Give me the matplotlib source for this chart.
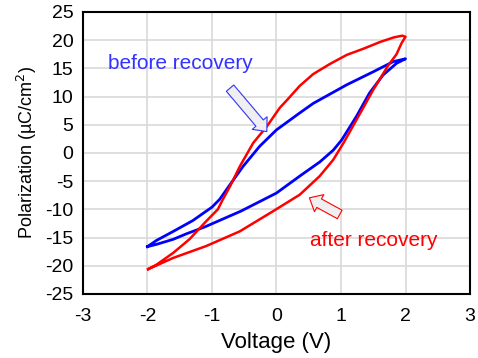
import matplotlib
matplotlib.use("Agg")
import matplotlib.pyplot as plt

plt.rcParams['font.family'] = ['Liberation Sans', 'DejaVu Sans']
plt.rcParams['axes.unicode_minus'] = False

# Lazo "before recovery": rama ascendente (-2 -> +2) y descendente (+2 -> -2)
before_up_v = [-2.0, -1.86, -1.60, -1.39, -1.11, -0.55, 0.0, 0.36, 0.67, 0.88, 1.01, 1.24, 1.44, 1.65, 1.86, 2.0]
before_up_p = [-16.6, -16.2, -15.3, -14.3, -13.1, -10.3, -7.1, -4.1, -1.6, 0.5, 2.3, 6.5, 10.6, 13.8, 15.9, 16.7]
before_down_v = [2.0, 1.81, 1.50, 1.09, 0.57, 0.36, 0.0, -0.26, -0.52, -0.72, -0.88, -1.0, -1.30, -1.60, -1.86, -2.0]
before_down_p = [16.7, 16.2, 14.4, 12.1, 8.8, 7.1, 4.1, 1.2, -2.4, -5.6, -8.2, -9.6, -12.0, -13.9, -15.5, -16.6]

# Lazo "after recovery"
after_up_v = [-1.99, -1.60, -1.09, -0.57, -0.05, 0.36, 0.67, 0.88, 1.04, 1.30, 1.50, 1.73, 1.86, 1.94, 2.0]
after_up_p = [-20.6, -18.6, -16.5, -13.9, -10.3, -7.4, -4.1, -1.2, 1.8, 7.1, 11.2, 15.5, 17.5, 19.5, 20.6]
after_down_v = [1.95, 1.82, 1.61, 1.35, 1.09, 0.83, 0.57, 0.36, 0.18, 0.05, -0.15, -0.36, -0.57, -0.72, -0.83, -0.91, -1.09, -1.35, -1.60, -1.86, -1.99]
after_down_p = [20.8, 20.5, 19.7, 18.5, 17.4, 15.8, 14.0, 11.9, 9.6, 8.0, 4.7, 1.8, -2.4, -5.9, -8.2, -10.0, -12.1, -15.3, -17.7, -19.8, -20.6]

fig = plt.figure(figsize=(4.78, 3.58), dpi=100)
ax = fig.add_axes([0.1736, 0.1788, 0.8097, 0.7877])

ax.plot(before_up_v + before_down_v, before_up_p + before_down_p, color='#0000ff', lw=2.0,
        solid_joinstyle='round', zorder=3)
ax.plot(after_up_v + after_down_v, after_up_p + after_down_p, color='#ff0000', lw=1.8,
        solid_joinstyle='round', zorder=3)

ax.set_xlim(-3, 3)
ax.set_ylim(-25, 25)
ax.set_xticks(range(-3, 4))
ax.set_yticks(range(-25, 26, 5))
ax.tick_params(length=0, labelsize=14, pad=7)
ax.tick_params(axis='x', pad=10)
ax.grid(color='#d9d9d9', linewidth=1.2)
ax.set_axisbelow(True)
for s in ax.spines.values():
    s.set_linewidth(1.5)
    s.set_color('black')

ax.set_xlabel('Voltage (V)', fontsize=16, labelpad=5)
ax.set_ylabel('Polarization (µC/cm$^2$)', fontsize=13, labelpad=4)

# Textos y flechas de bloque
ax.text(-2.61, 15.9, 'before recovery', color='#3333ff', fontsize=15, va='center')
ax.text(0.52, -15.5, 'after recovery', color='#ff0000', fontsize=15, va='center')
estilo = 'simple,head_width=1.4,head_length=0.8,tail_width=0.7'
ax.annotate('', xy=(-0.15, 3.8), xytext=(-0.72, 11.5),
            arrowprops=dict(arrowstyle=estilo, mutation_scale=10,
                            fc='#efefef', ec='#3333ff', lw=0.8, shrinkA=0, shrinkB=0))
ax.annotate('', xy=(0.51, -7.95), xytext=(0.98, -10.9),
            arrowprops=dict(arrowstyle=estilo, mutation_scale=10,
                            fc='#efefef', ec='#ff0000', lw=0.8, shrinkA=0, shrinkB=0))

fig.savefig('out.png', dpi=100)
